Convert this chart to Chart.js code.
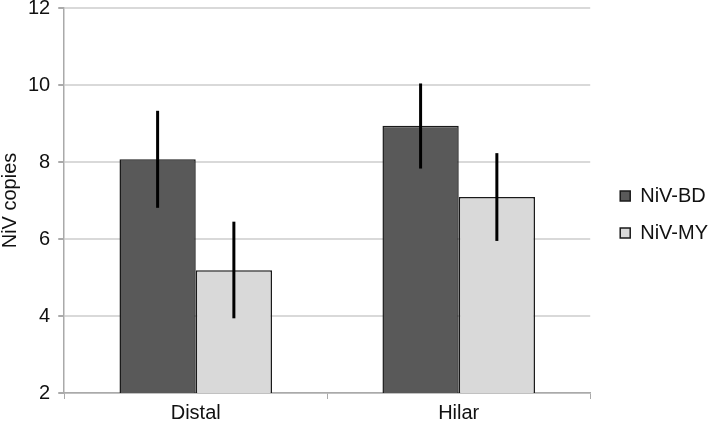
<!DOCTYPE html>
<html>
<head>
<meta charset="utf-8">
<script src="https://cdn.jsdelivr.net/npm/chart.js@4.4.1/dist/chart.umd.min.js"></script>
<style>
  html, body { margin: 0; padding: 0; background: #fff; }
  #wrap { width: 710px; height: 425px; }
</style>
</head>
<body>
<div id="wrap"><canvas id="c"></canvas></div>
<script>
// data
const labelon = ['Distal', 'Hilar'];
const bdValues = [8.07, 8.94];
const bdLow = [6.81, 7.83];
const bdHigh = [9.33, 10.04];
const myValues = [5.19, 7.09];
const myLow = [3.94, 5.95];
const myHigh = [6.45, 8.23];
const yTicks = [2, 4, 6, 8, 10, 12];

const errBars = [
    { low: bdLow, high: bdHigh },
    { low: myLow, high: myHigh }
];

// vertical error bars without caps
const errorPlugin = {
    id: 'errorBars',
    afterDatasetsDraw(chart) {
        const ctx = chart.ctx;
        const y = chart.scales.y;
        ctx.save();
        ctx.strokeStyle = '#000';
        ctx.lineWidth = 3;
        chart.data.datasets.forEach((ds, i) => {
            const meta = chart.getDatasetMeta(i);
            meta.data.forEach((bar, j) => {
                ctx.beginPath();
                ctx.moveTo(bar.x, y.getPixelForValue(errBars[i].low[j]));
                ctx.lineTo(bar.x, y.getPixelForValue(errBars[i].high[j]));
                ctx.stroke();
            });
        });
        ctx.restore();
    }
};

// nudge the legend a bit away from the plot
const legendShift = {
    id: 'legendShift',
    afterLayout(chart) {
        const lg = chart.legend;
        lg.left += 13; lg.right += 13;
        lg.top += 1; lg.bottom += 1;
    }
};

Chart.defaults.font.family = '"Liberation Sans", Arial, sans-serif';
Chart.defaults.font.size = 20;
Chart.defaults.color = '#111';

const ctx1 = document.getElementById('c').getContext('2d');
const chart = new Chart(ctx1, {
    type: 'bar',
    data: {
        labels: labelon,
        datasets: [{
            label: 'NiV-BD',
            data: bdValues,
            backgroundColor: '#595959',
            borderColor: '#1a1a1a',
            borderWidth: 1.5,
            borderSkipped: false
        }, {
            label: 'NiV-MY',
            data: myValues,
            backgroundColor: '#d9d9d9',
            borderColor: '#1a1a1a',
            borderWidth: 1.5,
            borderSkipped: false
        }]
    },
    options: {
        responsive: true,
        maintainAspectRatio: false,
        animation: false,
        devicePixelRatio: 1,
        layout: { padding: { top: 0, right: 5, left: 0, bottom: -2 } },
        datasets: { bar: { categoryPercentage: 0.58, barPercentage: 1 } },
        scales: {
            y: {
                min: 2,
                max: 12,
                afterBuildTicks: (axis) => { axis.ticks = yTicks.map(v => ({ value: v })); },
                afterFit: (axis) => { axis.paddingTop = 8; },
                grid: { color: '#d9d9d9', lineWidth: 2, tickLength: 6, tickColor: '#aaa' },
                border: { color: '#aaa', width: 1.5 },
                ticks: { padding: 8, color: '#111' },
                title: { display: true, text: 'NiV copies', color: '#111', font: { size: 20, lineHeight: 1 }, padding: { top: 0, bottom: 0 } }
            },
            x: {
                grid: { drawOnChartArea: false, offset: true, tickLength: 6, color: '#aaa' },
                border: { color: '#aaa', width: 1.5 },
                ticks: { padding: 2, color: '#111' }
            }
        },
        plugins: {
            legend: {
                position: 'right',
                labels: {
                    boxWidth: 10,
                    boxHeight: 10,
                    padding: 17,
                    color: '#111'
                }
            },
            tooltip: { enabled: false }
        }
    },
    plugins: [errorPlugin, legendShift]
});
</script>
</body>
</html>
